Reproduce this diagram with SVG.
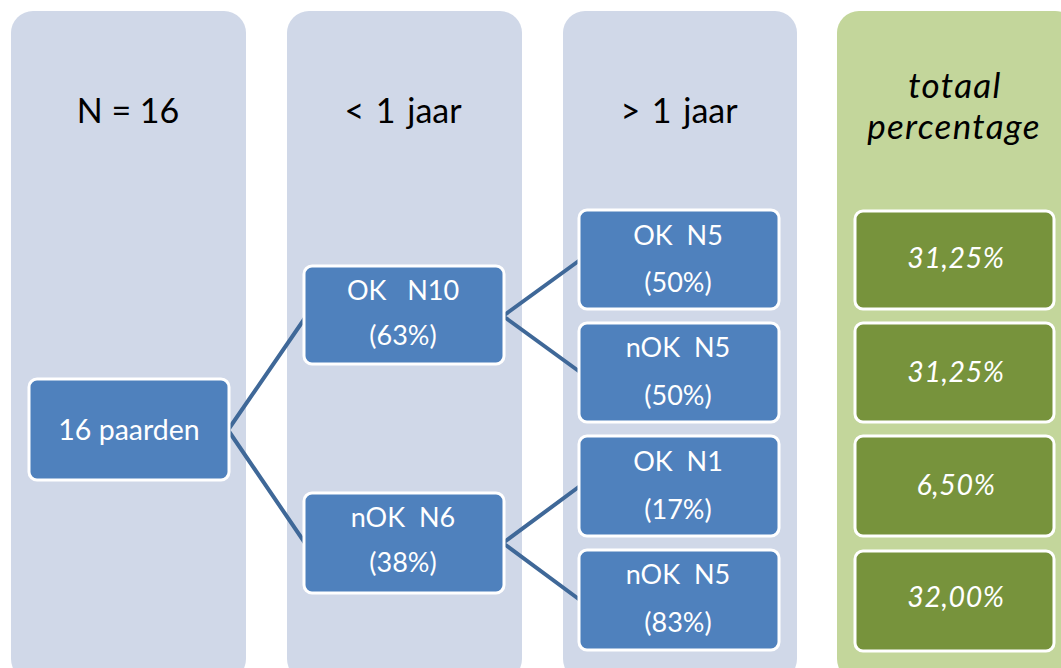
<svg xmlns="http://www.w3.org/2000/svg" width="1061" height="668" viewBox="0 0 1061 668">
<style>
.col{fill:#d0d8e8}
.gcol{fill:#c3d69b}
.bn{fill:#4f81bd;stroke:#ffffff;stroke-width:3}
.gn{fill:#77933c;stroke:#ffffff;stroke-width:3}
.hd{font-family:Lato,"Liberation Sans",sans-serif;font-size:34px;fill:#000;text-anchor:middle}
.hj{word-spacing:3px}
.hi{font-family:Lato,"Liberation Sans",sans-serif;font-size:35px;font-style:italic;letter-spacing:1.3px;fill:#000;text-anchor:middle}
.t{font-family:Lato,"Liberation Sans",sans-serif;font-size:27px;fill:#fff;text-anchor:middle;white-space:pre}
.ti{font-family:Lato,"Liberation Sans",sans-serif;font-size:28.5px;font-style:italic;letter-spacing:0.6px;fill:#fff;text-anchor:middle}
.ln{fill:none;stroke:#3f6898;stroke-width:4}
</style>
<rect width="1061" height="668" fill="#ffffff"/>
<g id="columns">
<rect class="col" x="11" y="11" width="235" height="670" rx="22"/>
<rect class="col" x="287" y="11" width="235" height="670" rx="22"/>
<rect class="col" x="563" y="11" width="234" height="670" rx="22"/>
<rect class="gcol" x="837" y="11" width="240" height="670" rx="22"/>
<text class="hd" x="128" y="123">N = 16</text>
<text class="hd hj" x="403" y="123">&lt; 1 jaar</text>
<text class="hd hj" x="679" y="123">&gt; 1 jaar</text>
<text class="hi" x="955" y="98">totaal</text>
<text class="hi" x="954" y="139">percentage</text>
</g>
<g id="connectors">
<path class="ln" d="M228 430 L305 318 M228 430 L305 543"/>
<path class="ln" d="M503 316 L580 260 M503 316 L580 372"/>
<path class="ln" d="M503 543 L580 486 M503 543 L580 600"/>
</g>
<g id="n16"><rect class="bn" x="29" y="379" width="200" height="101" rx="8"/><text class="t" x="129" y="440" style="font-size:28.5px">16 paarden</text></g>
<g id="ok10"><rect class="bn" x="304" y="266" width="200" height="98" rx="8"/><text class="t" x="403" y="300">OK   N10</text><text class="t" x="403" y="345">(63%)</text></g>
<g id="nok6"><rect class="bn" x="304" y="493" width="200" height="100" rx="8"/><text class="t" x="403" y="527">nOK  N6</text><text class="t" x="403" y="572">(38%)</text></g>
<g id="ok5"><rect class="bn" x="579" y="210" width="200" height="99" rx="8"/><text class="t" x="678" y="245">OK  N5</text><text class="t" x="678" y="292">(50%)</text></g>
<g id="nok5a"><rect class="bn" x="579" y="323" width="200" height="99" rx="8"/><text class="t" x="678" y="357">nOK  N5</text><text class="t" x="678" y="405">(50%)</text></g>
<g id="ok1"><rect class="bn" x="579" y="436" width="200" height="100" rx="8"/><text class="t" x="678" y="471">OK  N1</text><text class="t" x="678" y="519">(17%)</text></g>
<g id="nok5b"><rect class="bn" x="579" y="550" width="200" height="100" rx="8"/><text class="t" x="678" y="584">nOK  N5</text><text class="t" x="678" y="632">(83%)</text></g>
<g id="p1"><rect class="gn" x="855" y="211" width="199" height="98" rx="8"/><text class="ti" x="956" y="268">31,25%</text></g>
<g id="p2"><rect class="gn" x="855" y="323" width="199" height="99" rx="8"/><text class="ti" x="956" y="382">31,25%</text></g>
<g id="p3"><rect class="gn" x="855" y="436" width="199" height="100" rx="8"/><text class="ti" x="956" y="495">6,50%</text></g>
<g id="p4"><rect class="gn" x="855" y="551" width="199" height="100" rx="8"/><text class="ti" x="956" y="607">32,00%</text></g>
</svg>
